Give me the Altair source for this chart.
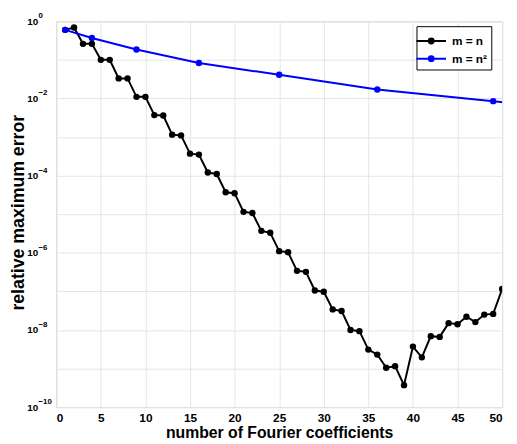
import altair as alt
import pandas as pd

# --- data ---
n_black = list(range(1, 51))
err_black = [
    0.60, 0.69, 0.26, 0.26, 0.10, 0.10, 0.033, 0.033, 0.011, 0.011,
    0.0037, 0.0036, 0.00115, 0.0011, 3.7e-4, 3.5e-4, 1.2e-4, 1.1e-4, 3.7e-5, 3.5e-5,
    1.15e-5, 1.07e-5, 3.7e-6, 3.3e-6, 1.1e-6, 1.03e-6, 3.4e-7, 3.2e-7, 1.05e-7, 9.8e-8,
    3.4e-8, 3.1e-8, 1.0e-8, 9.3e-9, 3.1e-9, 2.3e-9, 1.05e-9, 1.15e-9, 3.7e-10, 3.7e-9,
    1.95e-9, 6.9e-9, 6.6e-9, 1.5e-8, 1.4e-8, 2.2e-8, 1.6e-8, 2.5e-8, 2.6e-8, 1.15e-7,
]
n_blue = [1, 4, 9, 16, 25, 36, 49, 64]
err_blue = [0.60, 0.37, 0.185, 0.083, 0.041, 0.017, 0.0085, 0.0038]
series_names = ["m = n", "m = n\u00b2"]
series_colors = ["#000000", "#0000ff"]
x_ticks = list(range(0, 51, 5))
y_decades = [10.0 ** (-k) for k in range(0, 11)]
label_decades = [10.0 ** (-k) for k in range(0, 11, 2)]
label_exponents = ["0", "\u22122", "\u22124", "\u22126", "\u22128", "\u221210"]

df = pd.concat([
    pd.DataFrame({"n": n_black, "err": err_black, "series": series_names[0]}),
    pd.DataFrame({"n": n_blue, "err": err_blue, "series": series_names[1]}),
])
df_exp = pd.DataFrame({"err": label_decades, "exp": label_exponents})

font = "Liberation Sans"

x_scale = alt.Scale(domain=[0, 50], nice=False)
y_scale = alt.Scale(type="log", domain=[1e-10, 1], nice=False)

x_enc = alt.X("n:Q", scale=x_scale,
              axis=alt.Axis(values=x_ticks, title="number of Fourier coefficients",
                            grid=True, ticks=False, labelPadding=6, labelFontSize=12,
                            titleFontSize=16, titleBaseline="alphabetic", titleY=31))
y_enc = alt.Y("err:Q", scale=y_scale,
              axis=alt.Axis(values=y_decades, title="relative maximum error",
                            labelExpr="round(-log(datum.value)/LN10) % 2 == 0 ? '10' : ''",
                            labelAlign="left", labelBaseline="middle", labelPadding=30,
                            labelFontSize=10,
                            grid=True, ticks=False, titleFontSize=18,
                            titleX=-38, titleY=194, titleBaseline="middle", titleAlign="center",
                            titleAngle=270))

legend = alt.Legend(title=None, orient="none", legendX=366, legendY=5,
                    fillColor="white", strokeColor="black", padding=4,
                    symbolType=("M-1.5,0H1.5"
                                "M-0.25,0a0.25,0.25 0 1,0 0.5,0a0.25,0.25 0 1,0 -0.5,0"
                                "M-0.15,0a0.15,0.15 0 1,0 0.3,0a0.15,0.15 0 1,0 -0.3,0"
                                "M-0.05,0a0.05,0.05 0 1,0 0.1,0a0.05,0.05 0 1,0 -0.1,0"),
                    symbolSize=400, symbolStrokeWidth=2,
                    labelFont=font, labelFontWeight="bold", labelFontSize=12,
                    labelColor="black", rowPadding=0, labelOffset=10)

color_line = alt.Color("series:N", scale=alt.Scale(domain=series_names, range=series_colors),
                       legend=legend)
color_pts = alt.Color("series:N", scale=alt.Scale(domain=series_names, range=series_colors),
                      legend=None)

base = alt.Chart(df).encode(x=x_enc, y=y_enc)
line = base.mark_line(strokeWidth=2, clip=True).encode(color=color_line)
pts = base.mark_circle(size=42, opacity=1, clip=True).encode(color=color_pts)

exps = alt.Chart(df_exp).mark_text(
    align="left", baseline="alphabetic", font=font, fontWeight="bold", fontSize=8,
    color="black", dy=-3,
).encode(x=alt.value(-18), y=alt.Y("err:Q", scale=y_scale), text="exp:N")

chart = (line + pts + exps).properties(
    width=453, height=392,
    autosize=alt.AutoSizeParams(type="none"),
    padding={"left": 49, "top": 10, "right": 7, "bottom": 34},
).configure_view(stroke="#c0c0c0", strokeWidth=1).configure_axis(
    labelFont=font, labelFontWeight="bold", labelColor="black",
    titleFont=font, titleFontWeight="bold", titleColor="black",
    gridColor="#e4e4e4", gridWidth=1, domain=False,
).configure_legend(symbolStrokeWidth=2)

chart.save("out.html", embed_options={"renderer": "svg", "actions": False})
